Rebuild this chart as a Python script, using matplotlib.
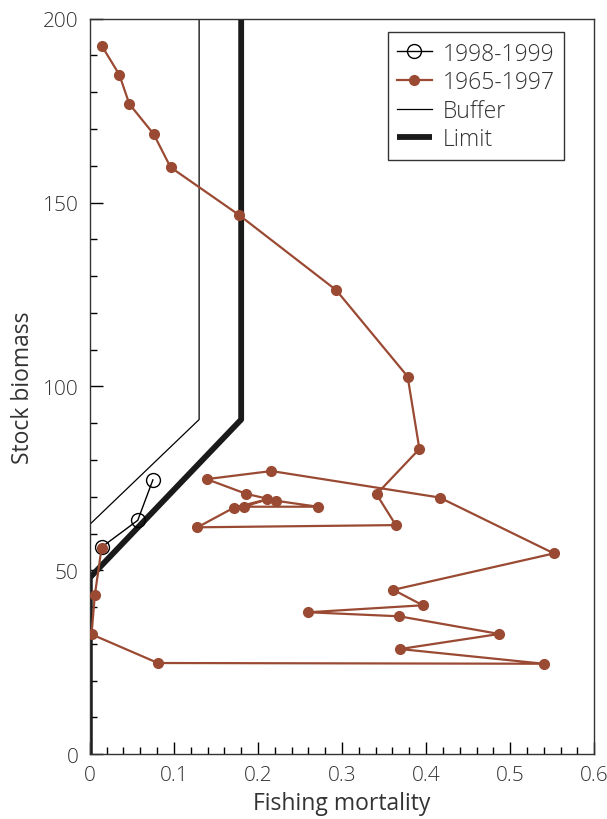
import matplotlib.pyplot as plt
from matplotlib.ticker import MultipleLocator

# 1965-1997 stock trajectory (fishing mortality, biomass)
f_hist = [0.014, 0.035, 0.047, 0.076, 0.096, 0.177, 0.293, 0.378, 0.392, 0.341,
          0.364, 0.128, 0.171, 0.211, 0.183, 0.271, 0.222, 0.186, 0.139, 0.216,
          0.416, 0.552, 0.361, 0.396, 0.260, 0.368, 0.487, 0.369, 0.540, 0.081,
          0.002, 0.006, 0.014]
b_hist = [192.7, 184.8, 176.8, 168.6, 159.6, 146.7, 126.2, 102.7, 83.0, 70.7,
          62.3, 61.7, 67.0, 69.3, 67.3, 67.3, 68.9, 70.8, 74.8, 77.0,
          69.8, 54.6, 44.7, 40.5, 38.6, 37.5, 32.7, 28.6, 24.6, 24.8,
          32.6, 43.4, 56.1]

# 1998-1999
f_new = [0.014, 0.057, 0.075]
b_new = [56.3, 63.6, 74.6]

# reference lines
f_buffer = [0.0, 0.13, 0.13]
b_buffer = [62.5, 91.0, 200]
f_limit = [0.0, 0.0, 0.18, 0.18]
b_limit = [0, 48.0, 91.0, 200]

brown = '#9a4a33'
plt.rcParams['font.family'] = ['Open Sans', 'DejaVu Sans']
plt.rcParams['font.weight'] = 'light'

fig = plt.figure(figsize=(6.07, 8.20), dpi=100)
ax = fig.add_axes([0.148, 0.079, 0.831, 0.897])

ax.plot(f_new, b_new, color='black', lw=1, marker='o', ms=10,
        mfc='none', mec='black', mew=1, label='1998-1999', zorder=3)
ax.plot(f_hist, b_hist, color=brown, lw=1.6, marker='o', ms=7,
        label='1965-1997', zorder=4)
ax.plot(f_buffer, b_buffer, color='black', lw=0.9, label='Buffer', zorder=2)
ax.plot(f_limit, b_limit, color='#1a1a1a', lw=4.2, label='Limit', zorder=2,
        solid_capstyle='butt')

ax.set_xlim(0, 0.6)
ax.set_ylim(0, 200)
ax.xaxis.set_major_locator(MultipleLocator(0.1))
ax.xaxis.set_minor_locator(MultipleLocator(0.02))
ax.yaxis.set_major_locator(MultipleLocator(50))
ax.yaxis.set_minor_locator(MultipleLocator(10))
ax.set_xticks([0, 0.1, 0.2, 0.3, 0.4, 0.5, 0.6])
ax.set_xticklabels(['0', '0.1', '0.2', '0.3', '0.4', '0.5', '0.6'])
ax.tick_params(which='both', direction='in', top=False, right=False,
               labelsize=15, labelcolor='#333333', pad=8)
ax.tick_params(which='major', length=9, width=1)
ax.tick_params(which='minor', length=5, width=1)
for s in ax.spines.values():
    s.set_linewidth(1)
    s.set_color('#333333')

ax.set_xlabel('Fishing mortality', fontsize=16.5, color='#333333', labelpad=4)
ax.set_ylabel('Stock biomass', fontsize=16.5, color='#333333', labelpad=6)

leg = ax.legend(loc='upper right', fontsize=16.5, frameon=True, fancybox=False,
                edgecolor='black', borderpad=0.4, handlelength=1.5,
                labelspacing=0.2, handletextpad=0.5,
                bbox_to_anchor=(0.963, 0.997))
leg.get_frame().set_linewidth(1)
for t in leg.get_texts():
    t.set_color('#333333')

fig.savefig('out.png', dpi=100)
